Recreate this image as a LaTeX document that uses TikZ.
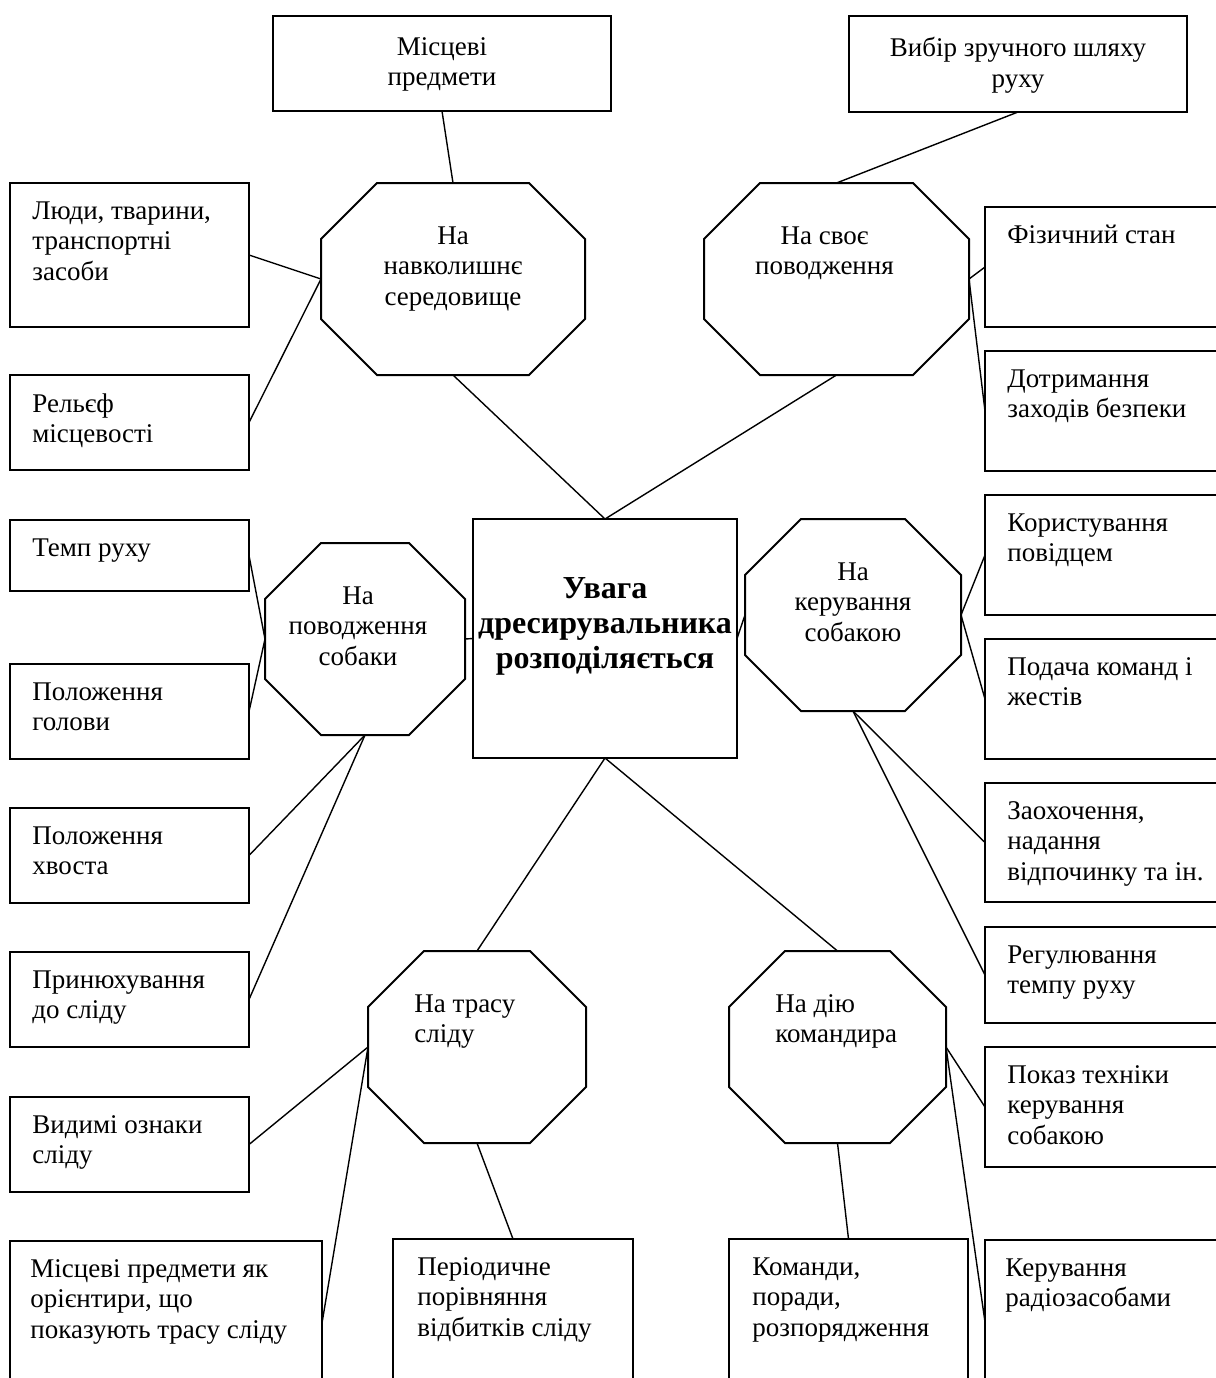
\documentclass[tikz,border=0pt]{standalone}
\usepackage{fontspec}
\setmainfont{Liberation Serif}
\usetikzlibrary{positioning}
\tikzset{
  outline/.style = {
    draw = black,
    line width = 1pt
  },
  % connector between two parts of the scheme
  link/.style = {
    draw = black,
    line width = 0.7pt
  },
  % plain rectangular box
  cell/.style = {
    outline,
    rectangle,
    inner sep = 0pt,
    outer sep = 0pt,
    minimum width = 119.5pt
  },
  % octagon, drawn round an empty rectangle node
  octagon/.style = {
    rectangle,
    inner sep = 0pt,
    outer sep = 0pt,
    minimum width = #1,
    minimum height = 96pt,
    append after command = {
      \pgfextra{
        \let\octnode\tikzlastnode
        \draw[outline]
          ([xshift=28pt]\octnode.north west) -- ([xshift=-28pt]\octnode.north east)
          -- ([yshift=-28pt]\octnode.north east) -- ([yshift=28pt]\octnode.south east)
          -- ([xshift=-28pt]\octnode.south east) -- ([xshift=28pt]\octnode.south west)
          -- ([yshift=28pt]\octnode.south west) -- ([yshift=-28pt]\octnode.north west)
          -- cycle;
      }
    }
  },
  txt/.style = {
    inner sep = 0pt,
    font = \fontsize{13.5}{15.25}\selectfont
  },
  ltxt/.style = {txt, align = left},
  ctxt/.style = {txt, align = center},
  % title in the middle
  btxt/.style = {
    inner sep = 0pt,
    align = center,
    font = \fontsize{16}{17.5}\selectfont\bfseries
  }
}
\begin{document}
\begin{tikzpicture}[x = 0.5pt, y = -0.5pt]
  \useasboundingbox (0,0) rectangle (1216,1378);
  \clip (0,0) rectangle (1216,1378);

  % centre
  \node[cell, minimum width=132pt, minimum height=119.5pt] (focus) at (605,638.5) {};
  \node[btxt, below=29pt of focus.north] (focus-t) {Увага\\ дресирувальника\\ розподіляється};

  % octagons
  \node[octagon=132pt] (env) at (453,279) {};
  \node[octagon=132.5pt] (self) at (836.5,279) {};
  \node[octagon=100pt] (dog) at (365,639) {};
  \node[octagon=108pt] (ctrl) at (853,615) {};
  \node[octagon=109pt] (trail) at (477,1047) {};
  \node[octagon=108.5pt] (cmdr) at (837.5,1047) {};

  \node[ctxt, below=21.5pt of env.north] (env-t) {На\\ навколишнє\\ середовище};
  \node[ctxt, below=21.5pt of self.north, xshift=-6pt] (self-t) {На своє\\ поводження};
  \node[ctxt, below=21.5pt of dog.north, xshift=-3.5pt] (dog-t) {На\\ поводження\\ собаки};
  \node[ctxt, below=21.5pt of ctrl.north] (ctrl-t) {На\\ керування\\ собакою};
  \node[ltxt, below right=21.5pt and 23pt of trail.north west] (trail-t) {На трасу\\ сліду};
  \node[ltxt, below right=21.5pt and 23pt of cmdr.north west] (cmdr-t) {На дію\\ командира};

  % top row
  \node[cell, minimum width=169pt, minimum height=47.5pt] (objects) at (442,63.5) {};
  \node[ctxt, below=10.5pt of objects.north] (objects-t) {Місцеві\\ предмети};
  \node[cell, minimum width=169pt, minimum height=48pt] (route) at (1018,64) {};
  \node[ctxt, below=10.5pt of route.north] (route-t) {Вибір зручного шляху\\ руху};

  % left column
  \node[cell, minimum height=72pt] (people) at (129.5,255) {};
  \node[cell, minimum height=47.5pt, below=24pt of people] (relief) {};
  \node[cell, minimum height=35.5pt, below=25pt of relief] (pace) {};
  \node[cell, minimum height=47.5pt, below=36.5pt of pace] (head) {};
  \node[cell, minimum height=47.5pt, below=24.5pt of head] (tail) {};
  \node[cell, minimum height=47.5pt, below=24.5pt of tail] (sniff) {};
  \node[cell, minimum height=47.5pt, below=25pt of sniff] (marks) {};
  \node[cell, minimum width=156pt, minimum height=82pt,
        below right=24.5pt and 0pt of marks.south west] (landmarks) {};

  \node[ltxt, below right=9pt and 11pt of people.north west] (people-t) {Люди, тварини,\\ транспортні\\ засоби};
  \node[ltxt, below right=9pt and 11pt of relief.north west] (relief-t) {Рельєф\\ місцевості};
  \node[ltxt, below right=9pt and 11pt of pace.north west] (pace-t) {Темп руху};
  \node[ltxt, below right=9pt and 11pt of head.north west] (head-t) {Положення\\ голови};
  \node[ltxt, below right=9pt and 11pt of tail.north west] (tail-t) {Положення\\ хвоста};
  \node[ltxt, below right=9pt and 11pt of sniff.north west] (sniff-t) {Принюхування\\ до сліду};
  \node[ltxt, below right=9pt and 11pt of marks.north west] (marks-t) {Видимі ознаки\\ сліду};
  \node[ltxt, below right=9pt and 10pt of landmarks.north west] (landmarks-t) {Місцеві предмети як\\ орієнтири, що\\ показують трасу сліду};

  % right column
  \node[cell, minimum height=60pt] (state) at (1104.5,267) {};
  \node[cell, minimum height=60pt, below=12pt of state] (safety) {};
  \node[cell, minimum height=60pt] (leash) at (1104.5,555) {};
  \node[cell, minimum height=60pt, below=12pt of leash] (cmds) {};
  \node[cell, minimum height=59.5pt, below=12pt of cmds] (reward) {};
  \node[cell, minimum height=48pt, below=12.5pt of reward] (tempo) {};
  \node[cell, minimum height=60pt, below=12pt of tempo] (demo) {};
  \node[cell, minimum height=82pt, below=36.5pt of demo] (radio) {};

  \node[ltxt, below right=9pt and 11pt of state.north west] (state-t) {Фізичний стан};
  \node[ltxt, below right=9pt and 11pt of safety.north west] (safety-t) {Дотримання\\ заходів безпеки};
  \node[ltxt, below right=9pt and 11pt of leash.north west] (leash-t) {Користування\\ повідцем};
  \node[ltxt, below right=9pt and 11pt of cmds.north west] (cmds-t) {Подача команд і\\ жестів};
  \node[ltxt, below right=9pt and 11pt of reward.north west] (reward-t) {Заохочення,\\ надання\\ відпочинку та ін.};
  \node[ltxt, below right=9pt and 11pt of tempo.north west] (tempo-t) {Регулювання\\ темпу руху};
  \node[ltxt, below right=9pt and 11pt of demo.north west] (demo-t) {Показ техніки\\ керування\\ собакою};
  \node[ltxt, below right=9pt and 10pt of radio.north west] (radio-t) {Керування\\ радіозасобами};

  % bottom row
  \node[cell, minimum width=120pt, minimum height=83pt] (prints) at (513,1322) {};
  \node[cell, minimum height=83pt] (orders) at (848.5,1322) {};
  \node[ltxt, below right=9pt and 12pt of prints.north west] (prints-t) {Періодичне\\ порівняння\\ відбитків сліду};
  \node[ltxt, below right=9pt and 11.5pt of orders.north west] (orders-t) {Команди,\\ поради,\\ розпорядження};

  % connectors
  \draw[link] (objects.south) -- (env.north);
  \draw[link] (people.east) -- (env.west);
  \draw[link] (relief.east) -- (env.west);
  \draw[link] (env.south) -- (focus.north);
  \draw[link] (route.south) -- (self.north);
  \draw[link] (self.east) -- (state.west);
  \draw[link] (self.east) -- (safety.west);
  \draw[link] (self.south) -- (focus.north);
  \draw[link] (pace.east) -- (dog.west);
  \draw[link] (head.east) -- (dog.west);
  \draw[link] (dog.south) -- (tail.east);
  \draw[link] (dog.south) -- (sniff.east);
  \draw[link] (dog.east) -- (focus.west);
  \draw[link] (focus.east) -- (ctrl.west);
  \draw[link] (ctrl.east) -- (leash.west);
  \draw[link] (ctrl.east) -- (cmds.west);
  \draw[link] (ctrl.south) -- (reward.west);
  \draw[link] (ctrl.south) -- (tempo.west);
  \draw[link] (focus.south) -- (trail.north);
  \draw[link] (focus.south) -- (cmdr.north);
  \draw[link] (trail.west) -- (marks.east);
  \draw[link] (trail.west) -- (landmarks.east);
  \draw[link] (trail.south) -- (prints.north);
  \draw[link] (cmdr.south) -- (orders.north);
  \draw[link] (cmdr.east) -- (demo.west);
  \draw[link] (cmdr.east) -- (radio.west);
\end{tikzpicture}
\end{document}
